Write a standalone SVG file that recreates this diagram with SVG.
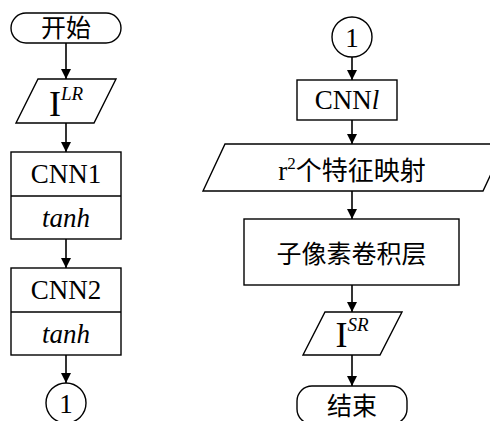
<svg xmlns="http://www.w3.org/2000/svg" width="490" height="421" viewBox="0 0 490 421">
<style>
.s{fill:#fff;stroke:#000;stroke-width:1.4}
.c{fill:none;stroke:#000;stroke-width:1.4}
.e{stroke:#000;stroke-width:1.6;fill:none;marker-end:url(#ah)}
.t{font-family:"Liberation Serif","Noto Sans CJK SC",serif;font-size:27px;fill:#000;text-anchor:middle}
.z{font-family:"Noto Sans CJK SC",sans-serif;font-size:25px;fill:#000;text-anchor:middle}
.i{font-style:italic}
</style>
<defs>
<marker id="ah" viewBox="0 0 10 10" refX="10" refY="5" markerWidth="10" markerHeight="11" markerUnits="userSpaceOnUse" orient="auto">
<path d="M0,0 L10,5 L0,10 z" fill="#000"/>
</marker>
</defs>
<g id="connectors">
<line class="e" x1="66" y1="43" x2="66" y2="79"/>
<line class="e" x1="66" y1="123" x2="66" y2="152"/>
<line class="e" x1="66" y1="239" x2="66" y2="268"/>
<line class="e" x1="66" y1="355" x2="66" y2="383"/>
<line class="e" x1="352" y1="57" x2="352" y2="80"/>
<line class="e" x1="352" y1="120" x2="352" y2="144"/>
<line class="e" x1="352" y1="191" x2="352" y2="219"/>
<line class="e" x1="352" y1="285" x2="352" y2="312"/>
<line class="e" x1="352" y1="355" x2="352" y2="386"/>
</g>
<g id="start">
<rect class="s" x="11" y="13" width="110" height="30" rx="15"/>
<text class="z" x="66" y="37">开始</text>
</g>
<g id="input-lr">
<polygon class="s" points="38,79 116,79 94,123 16,123"/>
<text class="t" x="66" y="116"><tspan font-size="36">I</tspan><tspan class="i" font-size="19" dy="-16">LR</tspan></text>
</g>
<g id="cnn1">
<rect class="s" x="11" y="152" width="110" height="87"/>
<line class="c" x1="11" y1="196" x2="121" y2="196"/>
<text class="t" x="66" y="183">CNN1</text>
<text class="t i" x="66" y="227">tanh</text>
</g>
<g id="cnn2">
<rect class="s" x="11" y="268" width="110" height="87"/>
<line class="c" x1="11" y1="312" x2="121" y2="312"/>
<text class="t" x="66" y="299">CNN2</text>
<text class="t i" x="66" y="343">tanh</text>
</g>
<g id="conn-out">
<circle class="s" cx="66" cy="403" r="20"/>
<text class="t" x="66" y="413">1</text>
</g>
<g id="conn-in">
<circle class="s" cx="352" cy="37" r="20"/>
<text class="t" x="352" y="47">1</text>
</g>
<g id="cnnl">
<rect class="s" x="297" y="80" width="100" height="40"/>
<text class="t" x="347" y="109">CNN<tspan class="i">l</tspan></text>
</g>
<g id="feature-maps">
<polygon class="s" points="225,144 505,144 483,191 203,191"/>
<text class="t" x="352" y="180">r<tspan font-size="17" dy="-11">2</tspan><tspan dy="11" font-family="Noto Sans CJK SC" font-size="26">个特征映射</tspan></text>
</g>
<g id="subpixel">
<rect class="s" x="244" y="219" width="215" height="66"/>
<text class="z" x="351.5" y="263" font-size="27">子像素卷积层</text>
</g>
<g id="output-sr">
<polygon class="s" points="325,312 402,312 380,355 303,355"/>
<text class="t" x="352" y="347"><tspan font-size="36">I</tspan><tspan class="i" font-size="19" dy="-16">SR</tspan></text>
</g>
<g id="end">
<rect class="s" x="297" y="386" width="110" height="38" rx="15"/>
<text class="z" x="352" y="415">结束</text>
</g>
</svg>
